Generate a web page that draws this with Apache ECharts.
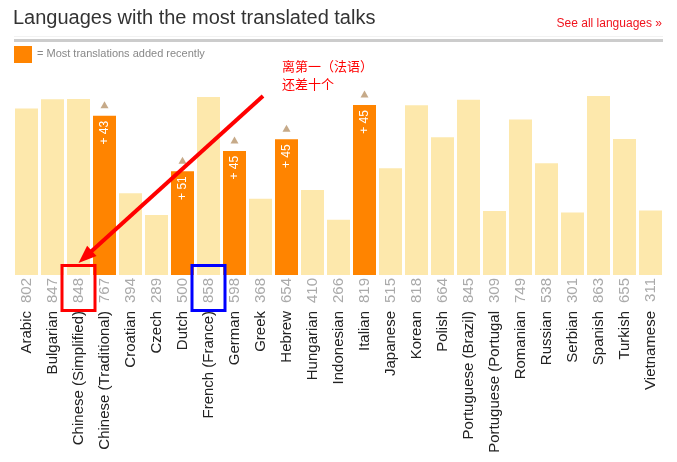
<!DOCTYPE html>
<html>
<head>
<meta charset="utf-8">
<script src="https://cdn.jsdelivr.net/npm/echarts@6/dist/echarts.min.js"></script>
<style>
html,body{margin:0;padding:0;background:#fff;}
#c{width:677px;height:462px;}
</style>
</head>
<body>
<div id="c"></div>
<script>
const categories = ['Arabic','Bulgarian','Chinese (Simplified)','Chinese (Traditional)','Croatian','Czech','Dutch','French (France)','German','Greek','Hebrew','Hungarian','Indonesian','Italian','Japanese','Korean','Polish','Portuguese (Brazil)','Portuguese (Portugal','Romanian','Russian','Serbian','Spanish','Turkish','Vietnamese'];
const values = [802,847,848,767,394,289,500,858,598,368,654,410,266,819,515,818,664,845,309,749,538,301,863,655,311];
const added = [null,null,null,43,null,null,51,null,45,null,45,null,null,45,null,null,null,null,null,null,null,null,null,null,null];
const titleText = 'Languages with the most translated talks';
const linkText = 'See all languages \u00bb';
const legendText = '= Most translations added recently';
const noteLines = ['离第一（法语）','还差十个'];
const redIdx = 2, blueIdx = 7;

const ORANGE = '#ff8400', LIGHT = '#fde8ac', TRI = '#b8956b';
const FONT = '"Liberation Sans", Arial, Helvetica, sans-serif';

const chart = echarts.init(document.getElementById('c'), null, {renderer:'canvas'});

const barData = values.map((v,i)=>({
  value: v,
  itemStyle: {color: added[i]!=null ? ORANGE : LIGHT},
  label: {show: added[i]!=null, formatter: '+ ' + added[i]}
}));
const triData = [];
added.forEach((a,i)=>{ if(a!=null) triData.push([i, values[i]]); });

chart.setOption({
  animation:false,
  grid:{left:13.5,right:13.5,top:67.5,bottom:187,containLabel:false},
  xAxis:[{
    type:'category', data:categories, position:'bottom',
    axisLine:{show:false}, axisTick:{show:false}, splitLine:{show:false},
    axisLabel:{interval:0, rotate:90, margin:3, color:'#aaa', fontSize:15, fontFamily:FONT,
      formatter:(v,i)=>String(values[i])}
  },{
    type:'category', data:categories, position:'bottom', offset:33,
    axisLine:{show:false}, axisTick:{show:false}, splitLine:{show:false},
    axisLabel:{interval:0, rotate:90, margin:3, color:'#222', fontSize:15, fontFamily:FONT}
  }],
  yAxis:{type:'value', min:0, max:1000, show:false},
  series:[{
    type:'bar', xAxisIndex:0, barWidth:23, data:barData,
    label:{position:'insideTop', rotate:90, align:'right', verticalAlign:'middle', distance:5,
      color:'#fff', fontSize:12, fontFamily:FONT}
  },{
    type:'scatter', xAxisIndex:0, data:triData, symbol:'triangle', symbolSize:[8,7],
    symbolOffset:[0,-11], itemStyle:{color:TRI}, z:3
  }]
});

const p0 = chart.convertToPixel({gridIndex:0},[redIdx,0]);
const p1 = chart.convertToPixel({gridIndex:0},[blueIdx,0]);
const baseY = p0[1];
const start = [263,96], tip = [p0[0], baseY-12];
const dx = tip[0]-start[0], dy = tip[1]-start[1], len = Math.hypot(dx,dy);
const ux = dx/len, uy = dy/len, nx = -uy, ny = ux;
const HL = 18, HW = 7;
const bx = tip[0]-ux*HL, by = tip[1]-uy*HL;

chart.setOption({graphic:[
  {type:'text', left:13, top:8, style:{text:titleText, fontSize:20, fill:'#333', fontFamily:FONT}},
  {type:'text', right:15, top:18, style:{text:linkText, fontSize:12, fill:'#f0141e', fontFamily:FONT}},
  {type:'rect', shape:{x:14,y:36,width:649,height:1}, style:{fill:'#f2f2f2'}},
  {type:'rect', shape:{x:14,y:39,width:649,height:3}, style:{fill:'#cccccc'}},
  {type:'rect', shape:{x:14,y:46,width:18,height:17}, style:{fill:ORANGE}},
  {type:'text', left:37, top:48, style:{text:legendText, fontSize:11, fill:'#888', fontFamily:FONT}},
  {type:'text', left:282, top:60, style:{text:noteLines[0], fontSize:13, fill:'#f00', fontFamily:'"Noto Sans CJK SC", sans-serif'}},
  {type:'text', left:282, top:78, style:{text:noteLines[1], fontSize:13, fill:'#f00', fontFamily:'"Noto Sans CJK SC", sans-serif'}},
  {type:'line', shape:{x1:start[0],y1:start[1],x2:bx+ux*2,y2:by+uy*2}, style:{stroke:'#f00', lineWidth:4}, z:10},
  {type:'polygon', shape:{points:[tip,[bx+nx*HW,by+ny*HW],[bx-nx*HW,by-ny*HW]]}, style:{fill:'#f00'}, z:10},
  {type:'rect', shape:{x:p0[0]-16.5,y:baseY-9.5,width:33,height:45}, style:{fill:'none',stroke:'#f00',lineWidth:3}, z:10},
  {type:'rect', shape:{x:p1[0]-16.5,y:baseY-9.5,width:33,height:45}, style:{fill:'none',stroke:'#00f',lineWidth:3}, z:10}
]});
</script>
</body>
</html>
